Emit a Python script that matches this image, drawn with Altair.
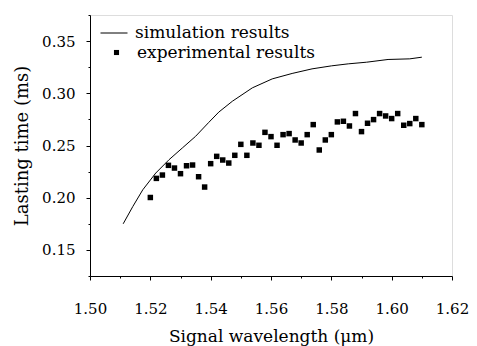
import altair as alt
import pandas as pd

# simulation curve
sim_x = [1.511, 1.5142, 1.5175, 1.5218, 1.5262, 1.5306, 1.535, 1.5394, 1.5427,
         1.5472, 1.5538, 1.5604, 1.567, 1.5736, 1.5801, 1.5856, 1.5917, 1.5988,
         1.606, 1.610]
sim_y = [0.175, 0.1916, 0.2076, 0.2236, 0.2364, 0.2476, 0.2588, 0.2722, 0.2820,
         0.2924, 0.3052, 0.3138, 0.3190, 0.3234, 0.3263, 0.3282, 0.3298, 0.3324,
         0.3330, 0.3346]

# experimental points
exp_x = [1.520, 1.522, 1.524, 1.526, 1.528, 1.530, 1.532, 1.534, 1.536, 1.538,
         1.540, 1.542, 1.544, 1.546, 1.548, 1.550, 1.552, 1.554, 1.556, 1.558,
         1.560, 1.562, 1.564, 1.566, 1.568, 1.570, 1.572, 1.574, 1.576, 1.578,
         1.580, 1.582, 1.584, 1.586, 1.588, 1.590, 1.592, 1.594, 1.596, 1.598,
         1.600, 1.602, 1.604, 1.606, 1.608, 1.610]
exp_y = [0.2002, 0.2185, 0.2217, 0.2310, 0.2284, 0.2230, 0.2306, 0.2313, 0.2201, 0.2102,
         0.2326, 0.2396, 0.2361, 0.2332, 0.2406, 0.2511, 0.2406, 0.2524, 0.2502, 0.2626,
         0.2585, 0.2502, 0.2604, 0.2614, 0.2553, 0.2524, 0.2604, 0.2700, 0.2457, 0.2553,
         0.2604, 0.2726, 0.2732, 0.2687, 0.2806, 0.2633, 0.2713, 0.2748, 0.2806, 0.2783,
         0.2758, 0.2806, 0.2694, 0.2710, 0.2758, 0.2700]

series = ["simulation results", "experimental results"]
x_ticks = [round(1.50 + 0.01 * i, 2) for i in range(13)]
y_ticks = [round(0.125 + 0.025 * i, 3) for i in range(11)]
x_title = "Signal wavelength (\u03bcm)"
y_title = "Lasting time (ms)"

sim = pd.DataFrame({"x": sim_x, "y": sim_y, "sim_series": series[0]})
exp = pd.DataFrame({"x": exp_x, "y": exp_y, "exp_series": series[1]})

FONT = "DejaVu Serif"

xmajor = "abs(datum.value*50 - round(datum.value*50)) < 0.01"
ymajor = "abs(datum.value*20 - round(datum.value*20)) < 0.01"

xscale = alt.Scale(domain=[1.50, 1.62], nice=False, zero=False)
yscale = alt.Scale(domain=[0.125, 0.375], nice=False, zero=False)

common = dict(
    grid=False, tickSize=4,
    tickColor="black", domainColor="black", labelColor="black", titleColor="black",
    labelFont=FONT, labelFontSize=15, titleFont=FONT,
    titleFontWeight="normal", labelFlush=False, labelOverlap=False,
)

xaxis = alt.Axis(
    values=x_ticks, title=x_title,
    labelExpr=f"({xmajor}) ? format(datum.value, '.2f') : ''",
    tickDash={"condition": {"test": xmajor, "value": [4, 0]}, "value": [2, 20]},
    titleFontSize=17, labelPadding=21, titlePadding=12, **common,
)
yaxis = alt.Axis(
    values=y_ticks, title=y_title,
    labelExpr=f"({ymajor}) ? format(datum.value, '.2f') : ''",
    tickDash={"condition": {"test": ymajor, "value": [4, 0]}, "value": [2, 20]},
    titleFontSize=18, labelPadding=11, titlePadding=10, **common,
)

legend_common = dict(
    title=None, orient="none", padding=0,
    labelFont=FONT, labelFontSize=17, labelColor="black", labelLimit=400,
)

line = alt.Chart(sim).mark_line(strokeWidth=1).encode(
    x=alt.X("x:Q", scale=xscale, axis=xaxis),
    y=alt.Y("y:Q", scale=yscale, axis=yaxis),
    color=alt.Color("sim_series:N",
                    scale=alt.Scale(domain=[series[0]], range=["black"]),
                    legend=alt.Legend(legendX=10, legendY=4, symbolType="stroke",
                                      symbolSize=729, symbolStrokeWidth=1,
                                      labelOffset=7, **legend_common)),
)

pts = alt.Chart(exp).mark_point(filled=True, opacity=1, size=30).encode(
    x=alt.X("x:Q", scale=xscale, axis=xaxis),
    y=alt.Y("y:Q", scale=yscale, axis=yaxis),
    shape=alt.Shape("exp_series:N",
                    scale=alt.Scale(domain=[series[1]], range=["square"]),
                    legend=alt.Legend(legendX=18, legendY=29, symbolSize=26,
                                      symbolFillColor="black", symbolStrokeWidth=0,
                                      labelOffset=12, **legend_common)),
    color=alt.value("black"),
)

chart = alt.layer(line, pts).properties(
    width=362, height=261,
    autosize=alt.AutoSizeParams(type="none"),
    padding={"left": 82, "top": 7, "right": 17, "bottom": 70},
).configure_view(stroke=None).configure(background="white")

chart.save("out.html", embed_options={"renderer": "svg", "actions": False})
